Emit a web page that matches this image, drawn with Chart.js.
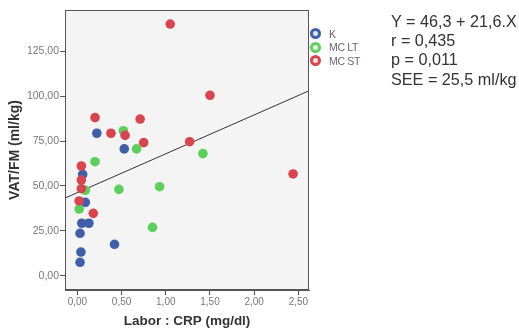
<!DOCTYPE html>
<html>
<head>
<meta charset="utf-8">
<script src="https://cdn.jsdelivr.net/npm/chart.js@4.4.1/dist/chart.umd.min.js"></script>
<style>
  body { margin: 0; background: #fff; }
  .wrap { position: relative; width: 519px; height: 331px; font-family: Arial, "Liberation Sans", sans-serif; }
  #chart { position: absolute; left: 0; top: 0; }
  .legend { position: absolute; left: 310px; top: 27px; }
  .legend .row { display: flex; align-items: center; height: 13.5px; }
  .legend .ring { width: 11px; height: 11px; box-sizing: border-box; border: 3px solid; border-radius: 50%; }
  .legend .txt { margin-left: 8px; font-size: 10.5px; color: #666; letter-spacing: -0.3px; }
  .stats { position: absolute; left: 391px; top: 11.8px; font-size: 16.2px; line-height: 19.3px; color: #333; white-space: pre; }
</style>
</head>
<body>
<div class="wrap">
  <canvas id="chart" width="519" height="331"></canvas>
  <div class="legend" id="legend"></div>
  <div class="stats">Y = 46,3 + 21,6.X
r = 0,435
p = 0,011
SEE = 25,5 ml/kg</div>
</div>
<script>
// data
const kX = [0.22, 0.53, 0.06, 0.09, 0.05, 0.13, 0.03, 0.42, 0.04, 0.03];
const kY = [79.3, 70.6, 56.4, 40.9, 29.3, 29.3, 23.7, 17.6, 13.3, 7.6];

const ltX = [0.52, 0.67, 1.42, 0.20, 0.09, 0.47, 0.93, 0.02, 0.85];
const ltY = [80.7, 70.6, 68.0, 63.5, 47.6, 48.1, 49.6, 37.2, 27.0];

const stX = [1.05, 1.50, 0.20, 0.71, 0.38, 0.54, 0.75, 1.27, 2.44, 0.045, 0.045, 0.045, 0.02, 0.18];
const stY = [140.0, 100.4, 88.0, 87.2, 79.3, 78.1, 74.1, 74.6, 56.7, 61.1, 53.3, 48.5, 41.7, 34.8];

const groups = ['K', 'MC LT', 'MC ST'];
const xTicks = [0, 0.5, 1, 1.5, 2, 2.5];
const yTicks = [0, 25, 50, 75, 100, 125];

// fit line from the printed equation
const intercept = 46.3;
const slope = 21.6;

const xMin = -0.14, xMax = 2.62;
const yMin = -7.8, yMax = 147.8;

const colors = ['#3f5fa8', '#5ccf5c', '#d9454f'];
const ringFill = ['#dfe6f5', '#e3f7e3', '#f9e1e3'];

const toPoints = (xs, ys) => xs.map((x, i) => ({x: x, y: ys[i]}));
const comma = v => v.toFixed(2).replace('.', ',');

// plot background + frame
const plotFrame = {
    id: 'plotFrame',
    beforeDraw(c) {
        const a = c.chartArea, ctx = c.ctx;
        ctx.save();
        ctx.fillStyle = '#f4f4f4';
        ctx.fillRect(a.left, a.top, a.right - a.left, a.bottom - a.top);
        ctx.restore();
    },
    afterDraw(c) {
        const a = c.chartArea, ctx = c.ctx;
        ctx.save();
        ctx.strokeStyle = '#555';
        ctx.lineWidth = 1;
        ctx.strokeRect(a.left + 0.5, a.top + 0.5, a.right - a.left - 1, a.bottom - a.top - 1);
        ctx.restore();
    }
};

const dot = (label, pts, i) => ({
    label: label,
    data: pts,
    backgroundColor: colors[i],
    borderWidth: 0,
    pointRadius: 4.8,
    pointHoverRadius: 4.8,
    order: 2 - i
});

const chart = new Chart(document.querySelector('#chart').getContext('2d'), {
    type: 'scatter',
    data: {
        datasets: [
            dot(groups[0], toPoints(kX, kY), 0),
            dot(groups[1], toPoints(ltX, ltY), 1),
            dot(groups[2], toPoints(stX, stY), 2),
            {
                type: 'line',
                label: 'fit',
                data: [{x: xMin, y: intercept + slope * xMin}, {x: xMax, y: intercept + slope * xMax}],
                borderColor: '#333',
                borderWidth: 1,
                pointRadius: 0,
                fill: false,
                order: 5
            }
        ]
    },
    options: {
        responsive: false,
        animation: false,
        devicePixelRatio: 1,
        layout: { padding: { left: 0, top: 10, right: 210, bottom: 0 } },
        plugins: { legend: { display: false }, tooltip: { enabled: false } },
        scales: {
            x: {
                type: 'linear',
                min: xMin,
                max: xMax,
                afterBuildTicks: s => { s.ticks = xTicks.map(v => ({value: v})) },
                afterFit: s => { s.height = 41 },
                grid: { drawOnChartArea: false, tickLength: 5, color: '#555' },
                border: { color: '#555' },
                ticks: {
                    padding: 1,
                    color: '#777',
                    font: { family: 'Arial, "Liberation Sans", sans-serif', size: 10 },
                    callback: v => comma(v)
                },
                title: {
                    display: true,
                    text: 'Labor : CRP (mg/dl)',
                    color: '#333',
                    padding: { top: 0, bottom: 2 },
                    font: { family: 'Arial, "Liberation Sans", sans-serif', size: 13.5, weight: 'bold' }
                }
            },
            y: {
                type: 'linear',
                min: yMin,
                max: yMax,
                afterBuildTicks: s => { s.ticks = yTicks.map(v => ({value: v})) },
                afterFit: s => { s.width = 65 },
                grid: { drawOnChartArea: false, tickLength: 5, color: '#555' },
                border: { color: '#555' },
                ticks: {
                    padding: 1,
                    color: '#777',
                    font: { family: 'Arial, "Liberation Sans", sans-serif', size: 10.5 },
                    callback: v => comma(v)
                },
                title: {
                    display: true,
                    text: 'VAT/FM (ml/kg)',
                    color: '#333',
                    padding: { top: 7, bottom: 0 },
                    font: { family: 'Arial, "Liberation Sans", sans-serif', size: 14, weight: 'bold' }
                }
            }
        }
    },
    plugins: [plotFrame]
});

// html legend built from the scatter datasets
const legendBox = document.querySelector('#legend');
chart.data.datasets.slice(0, 3).forEach((ds, i) => {
    const row = document.createElement('div');
    row.className = 'row';
    row.innerHTML = '<span class="ring" style="border-color:' + ds.backgroundColor +
        ';background:' + ringFill[i] + '"></span><span class="txt">' + ds.label + '</span>';
    legendBox.appendChild(row);
});
</script>
</body>
</html>
